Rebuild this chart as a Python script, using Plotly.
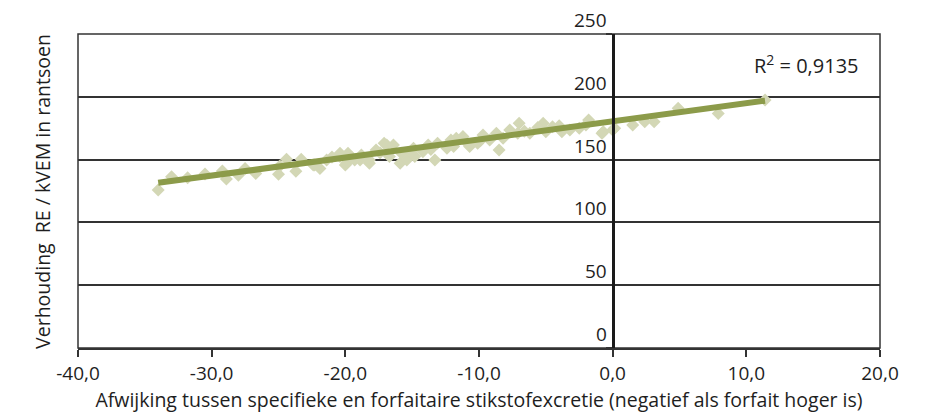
import plotly.graph_objects as go

# Scatter data
pts_x = [-34.0, -33.0, -30.5, -28.9, -29.2, -27.5, -26.7, -25.0, -24.4, -23.7, -23.3,
         -22.3, -21.9, -20.4, -19.8, -19.9, -18.9, -18.2, -17.7, -16.9,
         -22.4, -21.4, -20.4, -20.0, -19.3, -18.8, -18.2, -17.1, -16.7, -16.4,
         -15.9, -15.8, -15.4, -14.9, -14.8, -14.2, -13.8, -13.3, -13.1, -12.4,
         -12.1, -11.7, -11.9, -11.2, -10.7, -10.1, -9.7, -9.2, -8.7, -8.5,
         -8.2, -7.7, -7.0, -7.1, -6.2, -5.2, -5.0, -4.5, -3.8, -3.2,
         -2.5, -1.8, -0.8, 0.0, -0.7, 0.15, 1.5, 2.4, 3.1, 4.9, 7.9, 11.4,
         -21.0, -19.5, -17.4, -15.1, -13.6, -11.0, -9.9, -6.6, -5.6, -4.0, -2.0,
         -24.9, -28.0, -31.8]
pts_y = [125.8, 136.4, 138.5, 134.6, 141.0, 143.0, 139.0, 138.3, 150.2, 140.7, 150.2,
         145.7, 143.0, 152.4, 155.0, 147.0, 149.7, 149.7, 157.6, 161.6,
         145.7, 149.7, 155.0, 145.7, 149.7, 153.7, 147.0, 163.0, 152.4, 161.6,
         147.0, 155.0, 149.7, 159.0, 152.4, 156.3, 161.6, 149.7, 163.0, 159.0,
         165.6, 166.9, 160.4, 168.4, 160.4, 163.0, 169.6, 165.6, 170.9, 157.6,
         166.9, 173.6, 178.9, 170.9, 170.9, 178.9, 172.2, 176.2, 172.2, 173.6,
         174.9, 181.5, 170.9, 173.6, 172.2, 174.9, 177.5, 180.2, 180.2, 190.8, 186.8, 197.5,
         152.0, 151.5, 155.5, 156.0, 158.0, 164.5, 165.0, 172.5, 175.5, 177.0, 177.5,
         145.0, 137.5, 135.5]

# Trend line end points
trend_x = [-34.0, 11.4]
trend_y = [131.5, 196.9]

y_ticks = [0, 50, 100, 150, 200, 250]
y_tick_labels = ["0", "50", "100", "150", "200", "250"]
x_ticks = [-40, -30, -20, -10, 0, 10, 20]
x_tick_labels = ["-40,0", "-30,0", "-20,0", "-10,0", "0,0", "10,0", "20,0"]

r2_text = "R<sup>2</sup> = 0,9135"
x_title = "Afwijking tussen specifieke en forfaitaire stikstofexcretie (negatief als forfait hoger is)"
y_title = "Verhouding  RE / kVEM in rantsoen"

FONT = "Open Sans"
TXT = "#1e1e1e"
GRID = "#333333"

fig = go.Figure()
fig.add_trace(go.Scatter(
    x=pts_x, y=pts_y, mode="markers",
    marker=dict(symbol="diamond", size=10, color="#d3d7b5", line=dict(width=0)),
    showlegend=False, hoverinfo="skip"))
fig.add_trace(go.Scatter(
    x=trend_x, y=trend_y, mode="lines",
    line=dict(color="#8c9b4a", width=6),
    showlegend=False, hoverinfo="skip"))

# border box
fig.add_shape(type="rect", xref="x domain", yref="y domain", x0=0, x1=1, y0=0, y1=1,
              line=dict(color=GRID, width=1.5), layer="below")

annotations = [
    dict(text=r2_text, xref="x", yref="y", x=18.6, y=226, xanchor="right", yanchor="middle",
         showarrow=False, font=dict(size=20, family=FONT, color=TXT)),
    dict(text=y_title, xref="paper", yref="paper", x=-0.045, y=0.5, textangle=-90,
         xanchor="center", yanchor="middle", showarrow=False,
         font=dict(size=19.5, family=FONT, color=TXT)),
]
# y tick labels sit above their gridlines, left of the zero axis
for v, lab in zip(y_ticks, y_tick_labels):
    annotations.append(dict(text=lab, xref="x", yref="y", x=0, y=v, xanchor="right",
                            yanchor="middle", xshift=-4, yshift=14, showarrow=False,
                            font=dict(size=19, family=FONT, color=TXT)))

fig.update_layout(
    width=922, height=408,
    margin=dict(l=70, r=50, t=26, b=68),
    paper_bgcolor="white", plot_bgcolor="white",
    font=dict(family=FONT, color=TXT, size=19),
    xaxis=dict(range=[-40, 20], tickvals=x_ticks, ticktext=x_tick_labels,
               automargin=False,
               showgrid=False, zeroline=False, showline=True, linecolor=GRID, linewidth=1.5,
               ticks="outside", ticklen=7, tickwidth=1.5, tickcolor=GRID,
               tickfont=dict(size=19, family=FONT, color=TXT),
               title=dict(text=x_title, font=dict(size=19.5, family=FONT, color=TXT), standoff=9)),
    yaxis=dict(range=[0, 250], tickvals=y_ticks, anchor="free", position=40/60,
               automargin=False, showticklabels=False,
               showgrid=True, gridcolor=GRID, gridwidth=1.5, zeroline=False,
               showline=True, linecolor="#1a1a1a", linewidth=2.5,
               ticks="outside", ticklen=6, tickwidth=1.5, tickcolor=GRID),
    annotations=annotations,
)

fig.write_html("out.html")
